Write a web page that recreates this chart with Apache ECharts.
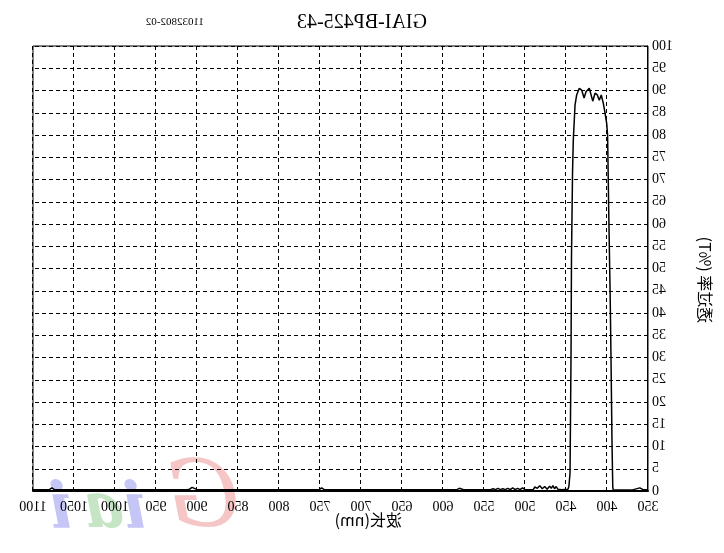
<!DOCTYPE html>
<html>
<head>
<meta charset="utf-8">
<script src="https://cdn.jsdelivr.net/npm/echarts@6/dist/echarts.min.js"></script>
<style>
html,body{margin:0;padding:0;background:#fff;}
#chart{width:724px;height:553px;transform:scaleX(-1);}
</style>
</head>
<body>
<div id="chart"></div>
<script>
// Wavelength (nm) and transmittance (%T)
var wavelengths = [350, 356, 358, 360, 362, 370, 380, 390, 392.5, 393, 394, 395, 396, 397, 398, 398.8, 399.3, 400.4, 402.4, 404.5, 407, 409.4, 411.8, 414.6, 417.4, 421.6, 425.6, 428, 430.9, 433.8, 437, 439, 441.1, 442, 443.3, 443.9, 445.1, 446.5, 447.6, 450, 455, 460, 462, 464, 466, 468, 470, 473, 476, 479, 482, 485, 488, 490, 495, 500, 503, 506, 509, 512, 515, 518, 521, 524, 527, 530, 533, 536, 539, 542, 550, 575, 580, 583, 600, 650, 700, 745, 748, 751, 755, 800, 850, 900, 906, 909, 912, 950, 1000, 1050, 1074, 1077, 1080, 1100];
var transmittance = [0.3, 0.3, 0.7, 0.7, 0.3, 0.2, 0.2, 0.2, 0.3, 1, 12, 28, 42, 53, 64, 74, 80, 82.6, 84.9, 87.1, 89, 87.8, 89, 89.4, 87.6, 90.5, 89.7, 88.3, 90.1, 90.5, 89, 86.7, 78.9, 72, 53, 30, 4, 1, 0.4, 0.3, 0.3, 0.4, 1.0, 0.5, 1.2, 0.6, 1.1, 0.4, 1.0, 0.5, 1.2, 0.6, 0.9, 0.3, 0.3, 0.3, 0.7, 0.3, 0.6, 0.3, 0.7, 0.3, 0.6, 0.3, 0.5, 0.3, 0.6, 0.3, 0.5, 0.3, 0.3, 0.3, 0.6, 0.3, 0.3, 0.3, 0.3, 0.3, 0.7, 0.3, 0.3, 0.3, 0.3, 0.3, 0.8, 0.4, 0.3, 0.3, 0.3, 0.3, 0.3, 0.7, 0.3, 0.3];
var xTicks = {min: 350, max: 1100, step: 50};
var yTicks = {min: 0, max: 100, step: 5};
var titleText = 'GIAI-BP425-43';
var codeText = '11032802-02';
var xName = '波长(nm)';
var yName = '透过率 (%T)';

var data = wavelengths.map(function (w, i) { return [w, transmittance[i]]; });
var serif = '"Liberation Serif", "DejaVu Serif", serif';
var cjk = '"Noto Sans CJK SC", "Liberation Serif", serif';

var chart = echarts.init(document.getElementById('chart'), null, {renderer: 'canvas'});
chart.setOption({
  backgroundColor: '#fff',
  animation: false,
  grid: {left: 76, right: 33, top: 46, bottom: 62, show: true, borderColor: '#000', borderWidth: 1},
  xAxis: {
    type: 'value', min: xTicks.min, max: xTicks.max, interval: xTicks.step,
    axisLine: {show: true, lineStyle: {color: '#000', width: 2}},
    axisTick: {show: false},
    axisLabel: {color: '#000', fontFamily: serif, fontSize: 14, margin: 9, showMinLabel: true, showMaxLabel: true,
      formatter: function (v) { return String(v); }},
    splitLine: {show: true, lineStyle: {color: '#000', width: 1, type: [4, 3]}}
  },
  yAxis: {
    type: 'value', min: yTicks.min, max: yTicks.max, interval: yTicks.step,
    axisLine: {show: true, lineStyle: {color: '#000', width: 1}},
    axisTick: {show: false},
    axisLabel: {color: '#000', fontFamily: serif, fontSize: 14, margin: 4, padding: [0, 0, 8, 0],
      formatter: function (v) { return String(v); }},
    splitLine: {show: true, lineStyle: {color: '#000', width: 1, type: [4, 3]}}
  },
  graphic: [
    {type: 'text', z: -10, left: 484, top: 456, style: {text: 'G', fill: 'rgba(230,90,90,0.35)', font: 'italic 92px "DejaVu Serif", serif'}},
    {type: 'text', z: -10, left: 578, top: 478, style: {text: 'i', fill: 'rgba(90,90,230,0.35)', font: 'italic bold 64px "DejaVu Serif", serif'}},
    {type: 'text', z: -10, left: 600, top: 478, style: {text: 'a', fill: 'rgba(90,180,90,0.35)', font: 'italic bold 64px "DejaVu Serif", serif'}},
    {type: 'text', z: -10, left: 652, top: 478, style: {text: 'i', fill: 'rgba(90,90,230,0.35)', font: 'italic bold 64px "DejaVu Serif", serif'}},
    {type: 'text', left: 'center', top: 13, style: {text: titleText, fill: '#000', font: '20px ' + serif}},
    {type: 'text', left: 520, top: 17, style: {text: codeText, fill: '#000', font: '11px ' + serif}},
    {type: 'text', left: 322, top: 512, style: {text: xName, fill: '#000', font: '16px ' + cjk}},
    {type: 'text', x: 19, y: 280, rotation: Math.PI / 2, style: {text: yName, fill: '#000', font: '16px ' + cjk, textAlign: 'center', textVerticalAlign: 'middle'}}
  ],
  series: [{
    type: 'line', data: data, showSymbol: false, smooth: false,
    lineStyle: {color: '#000', width: 1.5}, z: 5
  }]
});
</script>
</body>
</html>
